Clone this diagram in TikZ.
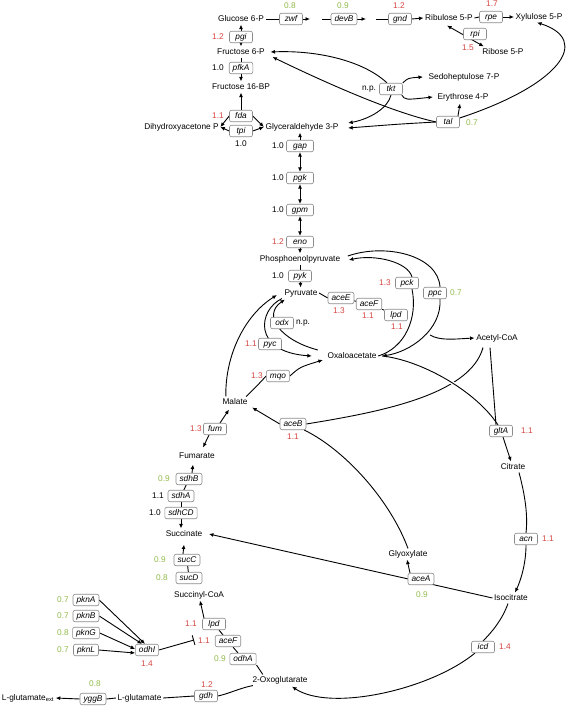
\documentclass[tikz,border=0pt]{standalone}
\usepackage{fontspec}
\setmainfont{Liberation Sans}
\usetikzlibrary{arrows.meta,calc}
\definecolor{vred}{RGB}{214,69,65}
\definecolor{vgreen}{RGB}{146,187,75}
\definecolor{boxgray}{RGB}{140,140,140}
\pgfdeclarelayer{back}
\pgfdeclarelayer{bg}
\pgfsetlayers{back,bg,main}
\newcommand\mf{\fontsize{8.3}{9.5}\selectfont}
\begin{document}
\begin{tikzpicture}[x=1pt,y=-1pt,
  met/.style={font=\mf, inner sep=1.5pt, text height=6pt, text depth=1.7pt},
  gene/.style={draw=boxgray, line width=0.6pt, rounded corners=2pt, fill=white,
     font=\mf\itshape, minimum width=23pt, minimum height=11.5pt, inner xsep=3.5pt,
     inner ysep=1pt, text height=6pt, text depth=1.7pt},
  gw/.style={gene, minimum width=27pt},
  val/.style={font=\mf, inner sep=0pt},
  rv/.style={val, text=vred},
  gv/.style={val, text=vgreen},
  bv/.style={val, text=black},
  ln/.style={line width=0.9pt},
  arr/.style={-{Latex[length=4.5pt,width=4pt]}},
  darr/.style={{Latex[length=4.5pt,width=4pt]}-{Latex[length=4.5pt,width=4pt]}}
]
\useasboundingbox (0,0) rectangle (567,708);
\begin{pgfonlayer}{back}
\fill[white] (0,0) rectangle (567,708);
\end{pgfonlayer}

% ---------- metabolites ----------
\node[met] (glc6p) at (241,19) {Glucose 6-P};
\node[met] (f6p) at (241,52) {Fructose 6-P};
\node[met] (f16bp) at (241,87) {Fructose 16-BP};
\node[met] (dhap) at (181.5,127) {Dihydroxyacetone P};
\node[met] (g3p) at (302,127) {Glyceraldehyde 3-P};
\node[met] (ru5p) at (449,18) {Ribulose 5-P};
\node[met] (xu5p) at (539,17) {Xylulose 5-P};
\node[met] (r5p) at (503,52) {Ribose 5-P};
\node[met] (s7p) at (464,77) {Sedoheptulose 7-P};
\node[met] (e4p) at (463,97) {Erythrose 4-P};
\node[met] (pep) at (300,259) {Phosphoenolpyruvate};
\node[met] (pyr) at (301,293) {Pyruvate};
\node[met] (oaa) at (352,356) {Oxaloacetate};
\node[met] (accoa) at (497,338) {Acetyl-CoA};
\node[met] (citrate) at (513,467) {Citrate};
\node[met] (isocit) at (511,598) {Isocitrate};
\node[met] (oxo) at (280,680) {2-Oxoglutarate};
\node[met] (succoa) at (199,595) {Succinyl-CoA};
\node[met] (succ) at (184,534) {Succinate};
\node[met] (fumarate) at (197,456) {Fumarate};
\node[met] (malate) at (235,402) {Malate};
\node[met] (glyox) at (408,554) {Glyoxylate};
\node[met] (lglu) at (139.5,698) {L-glutamate};
\node[met] (lgluext) at (28,698) {L-glutamate\textsubscript{ext}};

% ---------- genes ----------
\node[gene] (zwf) at (291,19) {zwf};
\node[gene] (devB) at (344,19) {devB};
\node[gene] (gnd) at (400,19) {gnd};
\node[gene] (rpe) at (491,17) {rpe};
\node[gene] (rpi) at (475,34) {rpi};
\node[gene] (pgi) at (241,37) {pgi};
\node[gene] (pfkA) at (241,68) {pfkA};
\node[gene] (fda) at (241,116) {fda};
\node[gene] (tpi) at (241,131) {tpi};
\node[gene] (tkt) at (391,89) {tkt};
\node[gene] (tal) at (448,122) {tal};
\node[gw] (gap) at (300,146) {gap};
\node[gw] (pgk) at (300,178) {pgk};
\node[gw] (gpm) at (300,210) {gpm};
\node[gw] (eno) at (300,242) {eno};
\node[gene] (pyk) at (300,276) {pyk};
\node[gene] (aceE) at (341,298) {aceE};
\node[gene] (aceF) at (369,304) {aceF};
\node[gene] (lpd) at (396,315) {lpd};
\node[gene] (pck) at (407,283) {pck};
\node[gene] (ppc) at (435,293) {ppc};
\node[gene] (odx) at (282,323) {odx};
\node[gene] (pyc) at (270,344) {pyc};
\node[gene] (mqo) at (278,376) {mqo};
\node[gene] (fum) at (215,429) {fum};
\node[gene] (aceB) at (293,424) {aceB};
\node[gene] (sdhB) at (189,479) {sdhB};
\node[gene] (sdhA) at (181,496) {sdhA};
\node[gene] (sdhCD) at (181,513) {sdhCD};
\node[gene] (gltA) at (501,431) {gltA};
\node[gene] (acn) at (526,539) {acn};
\node[gene] (aceA) at (421,579) {aceA};
\node[gene] (icd) at (483,647) {icd};
\node[gene] (sucC) at (187,560) {sucC};
\node[gene] (sucD) at (189,578) {sucD};
\node[gene] (lpdB) at (214,624) {lpd};
\node[gene] (aceFB) at (228,641) {aceF};
\node[gene] (odhA) at (243,659) {odhA};
\node[gene] (gdh) at (206,696) {gdh};
\node[gene] (yggB) at (93,699) {yggB};
\node[gene] (pknA) at (86,600) {pknA};
\node[gene] (pknB) at (86,616) {pknB};
\node[gene] (pknG) at (86,633) {pknG};
\node[gene] (pknL) at (86,650) {pknL};
\node[gene] (odhI) at (147,650) {odhI};

% ---------- values ----------
\node[gv] (vzwf) at (290,6) {0.8};
\node[gv] (vdevB) at (343,6) {0.9};
\node[rv] (vgnd) at (399,6) {1.2};
\node[rv] (vrpe) at (492,4) {1.7};
\node[rv] (vrpi) at (468,48) {1.5};
\node[rv] (vpgi) at (218,37) {1.2};
\node[bv] (vpfkA) at (218,68) {1.0};
\node[rv] (vfda) at (218,116) {1.1};
\node[bv] (vtpi) at (241,144) {1.0};
\node[bv] (vtkt) at (369,89) {n.p.};
\node[gv] (vtal) at (472,123) {0.7};
\node[bv] (vgap) at (278,146) {1.0};
\node[bv] (vpgk) at (278,178) {1.0};
\node[bv] (vgpm) at (278,210) {1.0};
\node[rv] (veno) at (278,242) {1.2};
\node[bv] (vpyk) at (278,276) {1.0};
\node[rv] (vaceE) at (339,311) {1.3};
\node[rv] (vaceF) at (368,316) {1.1};
\node[rv] (vlpd) at (397,327) {1.1};
\node[rv] (vpck) at (385,283) {1.3};
\node[gv] (vppc) at (456,293) {0.7};
\node[bv] (vodx) at (303,323) {n.p.};
\node[rv] (vpyc) at (251,344) {1.1};
\node[rv] (vmqo) at (257,376) {1.3};
\node[rv] (vfum) at (196,429) {1.3};
\node[rv] (vaceB) at (293,437) {1.1};
\node[gv] (vsdhB) at (164,479) {0.9};
\node[bv] (vsdhA) at (158,496) {1.1};
\node[bv] (vsdhCD) at (155,513) {1.0};
\node[rv] (vgltA) at (527,431) {1.1};
\node[rv] (vacn) at (548,539) {1.1};
\node[gv] (vaceA) at (422,595) {0.9};
\node[rv] (vicd) at (505,647) {1.4};
\node[gv] (vsucC) at (160,560) {0.9};
\node[gv] (vsucD) at (162,578) {0.8};
\node[rv] (vlpdB) at (191,624) {1.1};
\node[rv] (vaceFB) at (204,641) {1.1};
\node[gv] (vodhA) at (220,659) {0.9};
\node[rv] (vgdh) at (207,685) {1.2};
\node[gv] (vyggB) at (95,684) {0.8};
\node[gv] (vpknA) at (63,600) {0.7};
\node[gv] (vpknB) at (63,616) {0.7};
\node[gv] (vpknG) at (63,633) {0.8};
\node[gv] (vpknL) at (63,650) {0.7};
\node[rv] (vodhI) at (147,664) {1.4};

% ---------- free ends ----------
\coordinate (zwfTip) at (310,19);
\coordinate (devIn) at (322,19);
\coordinate (devTip) at (366,19);
\coordinate (gndIn) at (376,19);
\coordinate (pdhOut) at (430,335);
\coordinate (inhib) at (194,640);
\coordinate (oaaE) at ([xshift=4pt]oaa.east);

\begin{pgfonlayer}{bg}
% oxidative / non-oxidative PPP
\draw[ln] (glc6p.east) -- (zwf.west);
\draw[ln,arr] (zwf.east) -- (zwfTip);
\draw[ln] (devIn) -- (devB.west);
\draw[ln,arr] (devB.east) -- (devTip);
\draw[ln] (gndIn) -- (gnd.west);
\draw[ln,arr] (gnd.east) -- (ru5p.west);
\draw[ln] (ru5p.east) -- (rpe.west);
\draw[ln,arr] (rpe.east) -- (xu5p.west);
\draw[ln,darr] ([xshift=-2pt,yshift=-2pt]ru5p.south) -- ([xshift=3pt]r5p.north west);
\draw[ln,arr] (tkt.north east) .. controls (408,78) .. ([xshift=-4pt]s7p.west);
\draw[ln,arr] ([xshift=-1pt]tkt.south east) .. controls (405,100) .. ([xshift=-3pt]e4p.west);
\draw[ln,arr] (tkt.south) .. controls (388,108) and (370,119) .. ([xshift=8pt,yshift=4pt]g3p.east);
\draw[ln,arr] ([xshift=-4pt]tkt.north) .. controls (365,62) and (320,50) .. ([xshift=4pt]f6p.east);
\draw[ln,arr] (tal.west) .. controls (400,124) .. ([xshift=8pt,yshift=-1pt]g3p.east);
\draw[ln,arr] (tal.west) .. controls (390,112) and (320,80) .. ([xshift=6pt,yshift=-5pt]f6p.east);
\draw[ln,arr] ([xshift=10pt]tal.north) -- ([xshift=-3pt,yshift=-1pt]e4p.south);
\draw[ln,arr] ([yshift=-2pt]tal.north east) .. controls (560,85) and (592,40) .. ([xshift=-2pt]xu5p.south);

% upper glycolysis
\draw[ln,arr] (pgi) -- (glc6p);
\draw[ln,arr] (pgi) -- (f6p);
\draw[ln] (f6p) -- (pfkA);
\draw[ln,arr] (pfkA) -- (f16bp);
\draw[ln,arr] (fda) -- (f16bp);
\draw[ln,arr] (fda.west) -- (dhap.east);
\draw[ln,arr] (tpi.west) -- (dhap.east);
\draw[ln,arr] (fda.east) -- (g3p.west);
\draw[ln,arr] (tpi.east) -- (g3p.west);

% lower glycolysis
\draw[ln,arr] (gap.north) -- (gap.north |- g3p.south);
\draw[ln,darr] (gap) -- (pgk);
\draw[ln,darr] (pgk) -- (gpm);
\draw[ln,darr] (gpm) -- (eno);
\draw[ln,arr] (eno) -- (pep);
\draw[ln] (pep) -- (pyk);
\draw[ln,arr] (pyk) -- (pyr);

% pyruvate dehydrogenase
\draw[ln] (pyr.east) -- (aceE.west);
\draw[ln] (aceE) -- (aceF);
\draw[ln] (aceF) -- (lpd);
\draw[ln,arr] (pdhOut) .. controls (440,341) and (455,339) .. (accoa.west);

% anaplerosis
\draw[ln,arr] ([xshift=-1pt]pyr.south west) .. controls (258,310) and (252,352) .. ([xshift=-14pt]oaa.west);
\draw[ln,arr] ([xshift=-8pt,yshift=6pt]oaa.west) .. controls (280,340) and (262,315) .. ([xshift=2pt,yshift=-1pt]pyr.south west);
\draw[ln,arr] ([xshift=5pt]malate.north west) .. controls (225,355) and (245,315) .. ([xshift=-6pt,yshift=-2pt]pyr.west);
\draw[ln] ([xshift=-3pt]malate.north east) .. controls (255,388) .. (mqo.west);
\draw[ln,arr] (mqo.east) .. controls (300,367) .. ([xshift=-3pt,yshift=-4pt]oaa.west);

% glyoxylate shunt / TCA
\draw[ln,arr] (aceB.west) -- ([xshift=3pt]malate.south east);
\draw[ln] (aceB.east) .. controls (380,412) and (470,395) .. ([xshift=-14pt,yshift=-4pt]accoa.south);
\draw[ln] (glyox.north) .. controls (390,500) and (345,450) .. ([xshift=-2pt]aceB.south east);
\draw[ln,preaction={draw=white,line width=3.5pt}] (oaaE) .. controls (420,360) and (475,390) .. ([xshift=-3pt]gltA.north);
\draw[ln] ([xshift=-7pt,yshift=-4pt]accoa.south) -- ([xshift=-5pt]gltA.north);
\draw[ln] (oaa.east) .. controls (405,348) and (418,318) .. ([xshift=5pt]pck.south);
\draw[ln,arr] ([xshift=5pt]pck.north) .. controls (408,262) and (375,254) .. ([xshift=7pt,yshift=-1pt]pep.east);
\draw[ln] ([xshift=6pt,yshift=3pt]pep.east) .. controls (385,243) and (438,255) .. ([xshift=5pt]ppc.north);
\draw[ln,arr] ([xshift=5pt]ppc.south) .. controls (442,330) and (410,352) .. (oaaE);
\draw[ln,arr] ([xshift=2pt]gltA.south) -- ([xshift=-2pt]citrate.north);
\draw[ln] ([xshift=6pt]citrate.south) .. controls (525,495) and (528,515) .. (acn.north);
\draw[ln,arr] (acn.south) .. controls (526,565) and (520,582) .. ([xshift=4pt]isocit.north);
\draw[ln,arr] (isocit.west) -- ([xshift=5pt]succ.east);
\draw[ln,arr] ([xshift=-11pt]aceA.north) -- ([xshift=-1pt]glyox.south);
\draw[ln] ([xshift=-3pt]isocit.south) .. controls (502,620) and (492,632) .. (icd.north);
\draw[ln,arr] ([xshift=-8pt]icd.south) .. controls (430,690) and (330,712) .. ([xshift=12pt,yshift=-1pt]oxo.south);
\draw[ln] ([xshift=12pt]oxo.north west) -- (odhA.south east);
\draw[ln] (odhA) -- (aceFB);
\draw[ln] (aceFB) -- (lpdB);
\draw[ln,arr] ([xshift=-10pt]lpdB.north) -- ([xshift=1pt]succoa.south);
\draw[ln] (sucD) -- (sucC);
\draw[ln,arr] ([xshift=-4pt]sucC.north) -- ([yshift=-5pt]succ.south);
\draw[ln,arr] ([xshift=3pt]sdhB.north) -- ([xshift=-4pt,yshift=-3pt]fumarate.south);
\draw[ln] (sdhB) -- (sdhA);
\draw[ln] (sdhA) -- (sdhCD);
\draw[ln,arr] (sdhCD.south) -- (sdhCD.south |- succ.north);
\draw[ln,arr] ([xshift=5pt]fum.north) -- ([xshift=-6pt,yshift=-2pt]malate.south);
\draw[ln,arr] ([xshift=-6pt]fum.south) -- ([xshift=6pt,yshift=3pt]fumarate.north);

% glutamate
\draw[ln] ([xshift=2pt]oxo.south west) .. controls (240,688) and (228,694) .. (gdh.east);
\draw[ln] (gdh.west) -- (lglu.east);
\draw[ln] (lglu.west) -- (yggB.east);
\draw[ln,arr] (yggB.west) -- (lgluext.east);

% regulation
\draw[ln,arr] (pknA.east) -- ([xshift=-2pt]odhI.north);
\draw[ln,arr] (pknB.east) -- ([xshift=-5pt]odhI.north);
\draw[ln,arr] (pknG.east) -- ([yshift=1pt]odhI.west);
\draw[ln,arr] (pknL.east) -- ([yshift=-3pt]odhI.west);
\draw[ln,-{Bar[width=10pt,line width=0.9pt]}] (odhI.east) -- (inhib);
\end{pgfonlayer}
\end{tikzpicture}
\end{document}
